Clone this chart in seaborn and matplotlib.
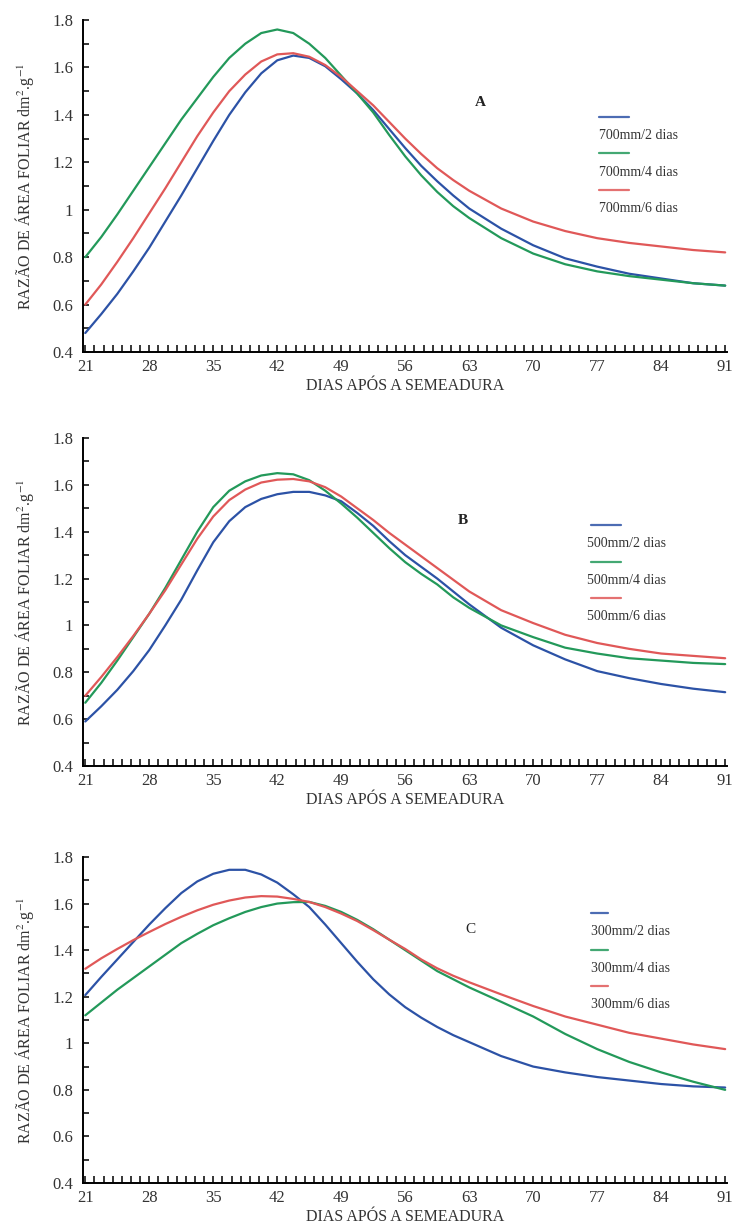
import numpy as np
import pandas as pd
import matplotlib
matplotlib.use("Agg")
import matplotlib.pyplot as plt
from matplotlib.lines import Line2D
import seaborn as sns

sns.set_theme(style="white")
plt.rcParams['font.family'] = ['Liberation Serif', 'DejaVu Serif']
plt.rcParams['mathtext.fontset'] = 'stix'

# ---- data ----
days = [21, 22.75, 24.5, 26.25, 28, 29.75, 31.5, 33.25, 35, 36.75, 38.5, 40.25, 42, 43.75,
        45.5, 47.25, 49, 50.75, 52.5, 54.25, 56, 57.75, 59.5, 61.25, 63,
        66.5, 70, 73.5, 77, 80.5, 84, 87.5, 91]

a_2 = [0.48, 0.56, 0.645, 0.74, 0.84, 0.95, 1.06, 1.175, 1.29, 1.40, 1.495, 1.575, 1.63, 1.65,
       1.64, 1.605, 1.55, 1.49, 1.42, 1.34, 1.26, 1.185, 1.12, 1.06, 1.005,
       0.92, 0.85, 0.795, 0.76, 0.73, 0.71, 0.69, 0.68]
a_4 = [0.80, 0.885, 0.98, 1.08, 1.18, 1.28, 1.38, 1.47, 1.56, 1.64, 1.70, 1.745, 1.76, 1.745,
       1.70, 1.64, 1.565, 1.49, 1.41, 1.315, 1.225, 1.145, 1.075, 1.015, 0.965,
       0.88, 0.815, 0.77, 0.74, 0.72, 0.705, 0.69, 0.68]
a_6 = [0.60, 0.685, 0.78, 0.88, 0.985, 1.09, 1.20, 1.31, 1.41, 1.50, 1.57, 1.625, 1.655, 1.66,
       1.645, 1.61, 1.56, 1.50, 1.44, 1.37, 1.30, 1.235, 1.175, 1.125, 1.08,
       1.005, 0.95, 0.91, 0.88, 0.86, 0.845, 0.83, 0.82]

b_2 = [0.59, 0.655, 0.725, 0.805, 0.895, 1.0, 1.11, 1.235, 1.355, 1.445, 1.505, 1.54, 1.56, 1.57,
       1.57, 1.555, 1.53, 1.48, 1.425, 1.36, 1.30, 1.25, 1.20, 1.145, 1.09,
       0.99, 0.915, 0.855, 0.805, 0.775, 0.75, 0.73, 0.715]
b_4 = [0.67, 0.755, 0.85, 0.95, 1.05, 1.16, 1.28, 1.40, 1.505, 1.575, 1.615, 1.64, 1.65, 1.645,
       1.62, 1.575, 1.52, 1.46, 1.395, 1.33, 1.27, 1.22, 1.175, 1.12, 1.075,
       1.00, 0.95, 0.905, 0.88, 0.86, 0.85, 0.84, 0.835]
b_6 = [0.70, 0.78, 0.865, 0.955, 1.05, 1.15, 1.26, 1.37, 1.465, 1.535, 1.58, 1.61, 1.622, 1.625,
       1.615, 1.59, 1.55, 1.50, 1.45, 1.395, 1.345, 1.295, 1.245, 1.195, 1.145,
       1.065, 1.01, 0.96, 0.925, 0.90, 0.88, 0.87, 0.86]

c_2 = [1.207, 1.285, 1.36, 1.435, 1.51, 1.58, 1.645, 1.695, 1.728, 1.745, 1.745, 1.725, 1.69, 1.64,
       1.585, 1.51, 1.43, 1.35, 1.275, 1.21, 1.155, 1.11, 1.07, 1.035, 1.005,
       0.945, 0.90, 0.875, 0.855, 0.84, 0.825, 0.815, 0.81]
c_4 = [1.12, 1.175, 1.23, 1.28, 1.33, 1.38, 1.43, 1.47, 1.507, 1.537, 1.564, 1.585, 1.60, 1.606,
       1.607, 1.59, 1.564, 1.53, 1.49, 1.445, 1.40, 1.355, 1.31, 1.275, 1.24,
       1.178, 1.115, 1.04, 0.975, 0.92, 0.875, 0.835, 0.80]
c_6 = [1.32, 1.365, 1.405, 1.443, 1.478, 1.512, 1.543, 1.571, 1.595, 1.613, 1.626, 1.632, 1.63, 1.62,
       1.607, 1.585, 1.557, 1.525, 1.486, 1.445, 1.405, 1.36, 1.322, 1.29, 1.262,
       1.21, 1.16, 1.115, 1.08, 1.045, 1.02, 0.995, 0.975]

panels = [
    ("A", ["700mm/2 dias", "700mm/4 dias", "700mm/6 dias"], [a_2, a_4, a_6]),
    ("B", ["500mm/2 dias", "500mm/4 dias", "500mm/6 dias"], [b_2, b_4, b_6]),
    ("C", ["300mm/2 dias", "300mm/4 dias", "300mm/6 dias"], [c_2, c_4, c_6]),
]
letter_pos = [(64.2, 1.45, 'bold'), (62.3, 1.45, 'bold'), (63.1, 1.49, 'normal')]

x_ticks = [21, 28, 35, 42, 49, 56, 63, 70, 77, 84, 91]
y_ticks = [0.4, 0.6, 0.8, 1.0, 1.2, 1.4, 1.6, 1.8]
y_ticklabels = ["0.4", "0.6", "0.8", "1", "1.2", "1.4", "1.6", "1.8"]

colors = ["#2c52a6", "#23995a", "#e05858"]

W, H = 733, 1226
fig = plt.figure(figsize=(W / 100, H / 100), dpi=100)
fig.patch.set_facecolor("white")

# axes pixel boxes (left, top, right, bottom)
boxes = [(83, 20, 727, 352), (83, 438, 727, 766), (83, 857, 727, 1183)]
# legend layout in pixels: (line x0, line x1, text x0, first line y offset from top)
leg = [(599, 629, 599, 97), (591, 621, 587, 87), (591, 608, 591, 56)]

for (letter, names, series), box, lp, lg in zip(panels, boxes, letter_pos, leg):
    l, t, r, b = box
    ax = fig.add_axes([l / W, 1 - b / H, (r - l) / W, (b - t) / H])
    n = len(days)
    df = pd.DataFrame({
        "dia": days * 3,
        "valor": series[0] + series[1] + series[2],
        "trat": sum([[nm] * n for nm in names], []),
    })
    sns.lineplot(data=df, x="dia", y="valor", hue="trat", palette=dict(zip(names, colors)),
                 ax=ax, legend=False, linewidth=1.6, sort=True)
    ax.set_xlim(20.75, 91.2)
    ax.set_ylim(0.4, 1.8)
    ax.set_facecolor("white")
    for s in ["top", "right"]:
        ax.spines[s].set_visible(False)
    for s in ["left", "bottom"]:
        ax.spines[s].set_color("black")
        ax.spines[s].set_linewidth(1.4)
    ax.set_xticks(x_ticks)
    ax.set_xticklabels([str(v) for v in x_ticks])
    ax.set_xticks(np.arange(21, 92, 1), minor=True)
    ax.set_yticks(y_ticks)
    ax.set_yticklabels(y_ticklabels)
    ax.set_yticks(np.arange(0.5, 1.8, 0.2), minor=True)
    ax.tick_params(axis="x", which="both", direction="in", length=5, width=1.1, color="black",
                   labelsize=12, pad=5, bottom=True)
    ax.tick_params(axis="y", which="both", direction="in", length=4, width=1.1, color="black",
                   labelsize=12, pad=7, left=True)
    ax.tick_params(axis="both", labelcolor="#333333")
    ax.set_xlabel("DIAS APÓS A SEMEADURA", fontsize=11.5, color="#333333", labelpad=2)
    ax.set_ylabel("RAZÃO DE ÁREA FOLIAR dm$^{2}$.g$^{-1}$", fontsize=11.5, color="#333333", labelpad=12)
    ax.grid(False)

    ax.text(lp[0], lp[1], letter, fontsize=11, fontweight=lp[2], color="#222222",
            ha="center", va="center")

    # legend: short line above each label
    lx0, lx1, tx0, yoff = lg
    for i, (nm, c) in enumerate(zip(names, colors)):
        y_line = (b - (t + yoff + 36.5 * i)) / (b - t)
        y_text = (b - (t + yoff + 18.5 + 36.5 * i)) / (b - t)
        ax.add_line(Line2D([(lx0 - l) / (r - l), (lx1 - l) / (r - l)], [y_line, y_line],
                           transform=ax.transAxes, color=c, linewidth=1.6, alpha=0.85))
        ax.text((tx0 - l) / (r - l), y_text, nm, transform=ax.transAxes, fontsize=10,
                color="#333333", ha="left", va="center")

fig.savefig("out.png", dpi=100, facecolor="white")
